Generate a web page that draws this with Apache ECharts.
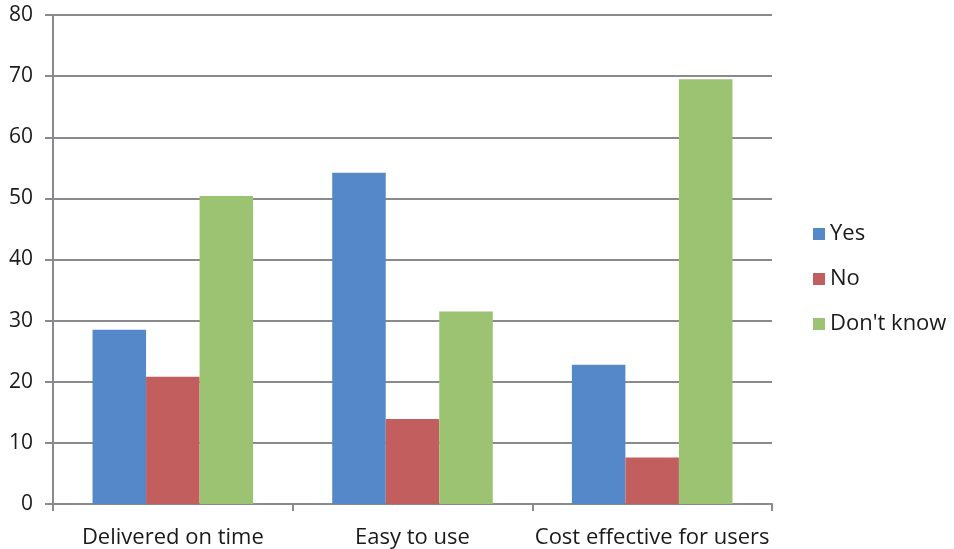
<!DOCTYPE html>
<html><head><meta charset="utf-8">
<script src="https://cdn.jsdelivr.net/npm/echarts@6/dist/echarts.min.js"></script>
<style>html,body{margin:0;padding:0;background:#fff}#c{width:954px;height:549px}</style>
</head><body><div id="c"></div>
<script>
const categories = ["Delivered on time", "Easy to use", "Cost effective for users"];
const seriesNames = ["Yes", "No", "Don't know"];
const yesValues = [28.5, 54.2, 22.8];
const noValues = [20.8, 13.9, 7.6];
const dontKnowValues = [50.4, 31.5, 69.5];
const yTicks = {min: 0, max: 80, interval: 10};

const colors = ["#5588C8", "#C25F5E", "#9BC371"];
const font = "Open Sans";
const chart = echarts.init(document.getElementById('c'), null, {renderer: 'canvas'});
const gray = '#8A8A8E';
chart.setOption({
  animation: false,
  color: colors,
  textStyle: {fontFamily: font},
  grid: {left: 53, right: 182, top: 15, bottom: 45, containLabel: false},
  legend: {
    orient: 'vertical', left: 808, top: 218,
    itemWidth: 12, itemHeight: 12, itemGap: 23,
    icon: 'rect',
    textStyle: {fontSize: 22, color: '#1a1a1a', fontFamily: font},
    data: seriesNames
  },
  xAxis: {
    type: 'category', data: categories,
    axisLine: {lineStyle: {color: gray, width: 2}},
    axisTick: {show: true, length: 7, lineStyle: {color: gray, width: 2}},
    axisLabel: {fontSize: 22, color: '#1a1a1a', margin: 23, fontFamily: font, interval: 0}
  },
  yAxis: {
    type: 'value', min: yTicks.min, max: yTicks.max, interval: yTicks.interval,
    axisLine: {show: true, lineStyle: {color: gray, width: 2}},
    axisTick: {show: true, length: 8, lineStyle: {color: gray, width: 2}},
    splitLine: {lineStyle: {color: gray, width: 2}},
    axisLabel: {fontSize: 21, color: '#1a1a1a', margin: 20, fontFamily: font}
  },
  series: [
    {name: seriesNames[0], type: 'bar', data: yesValues, barGap: '0%', barCategoryGap: '33%'},
    {name: seriesNames[1], type: 'bar', data: noValues, barGap: '0%', barCategoryGap: '33%'},
    {name: seriesNames[2], type: 'bar', data: dontKnowValues, barGap: '0%', barCategoryGap: '33%'}
  ]
});
</script></body></html>
